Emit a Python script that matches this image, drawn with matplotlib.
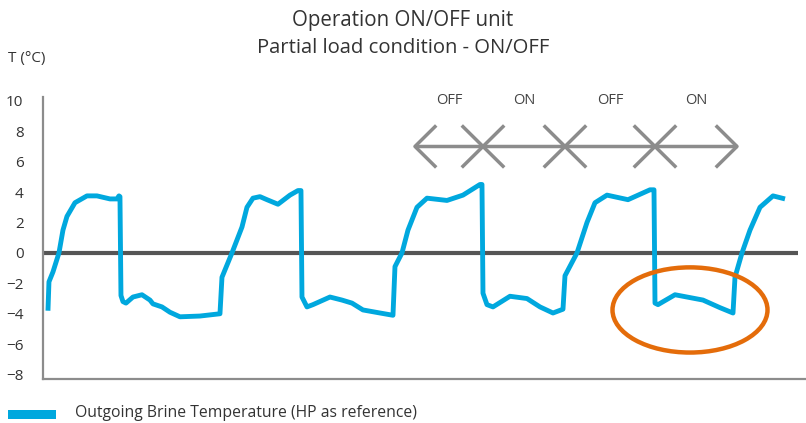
import matplotlib.pyplot as plt
from matplotlib.patches import Ellipse, Rectangle

plt.rcParams['font.family'] = ['Open Sans', 'DejaVu Sans']

# brine temperature trace (time in arbitrary units)
time = [0.5, 0.6, 1.0, 1.6, 2.0, 2.4, 3.2, 4.4, 5.4, 6.7, 7.4, 7.6, 7.7, 7.8, 8.0, 8.3, 9.0,
        9.9, 10.7, 11.0, 11.9, 12.7, 13.7, 15.7, 17.7, 17.9, 18.9, 19.9, 20.4, 21.0, 21.7,
        22.4, 23.5, 24.7, 25.5, 25.8, 25.9, 26.4, 27.0, 28.7, 29.9, 30.9, 32.0, 33.7, 35.0,
        35.2, 35.9, 36.5, 37.4, 38.4, 40.4, 42.0, 43.7, 43.9, 44.0, 44.4, 45.0, 46.7, 48.4,
        49.7, 51.0, 52.0, 52.2, 53.0, 53.4, 54.4, 55.2, 56.4, 58.5, 60.7, 61.1, 61.2, 61.5,
        63.2, 66.0, 67.7, 69.0, 69.2, 69.9, 70.7, 71.7, 73.0, 74.2]
temp = [-3.8, -1.9, -1.25, 0.0, 1.5, 2.4, 3.3, 3.75, 3.75, 3.55, 3.55, 3.75, 3.7, -2.8, -3.2,
        -3.3, -2.9, -2.75, -3.1, -3.35, -3.55, -3.9, -4.2, -4.15, -4.0, -1.6, 0.0, 1.7, 3.0,
        3.6, 3.7, 3.5, 3.2, 3.8, 4.1, 4.1, -2.9, -3.55, -3.4, -2.9, -3.1, -3.3, -3.75, -3.95,
        -4.1, -0.9, 0.0, 1.5, 3.0, 3.6, 3.45, 3.8, 4.5, 4.5, -2.65, -3.4, -3.55, -2.85, -3.0,
        -3.55, -3.95, -3.7, -1.5, -0.5, 0.0, 2.0, 3.3, 3.8, 3.5, 4.15, 4.15, -3.3, -3.4,
        -2.75, -3.1, -3.6, -3.95, -1.6, 0.0, 1.5, 3.0, 3.75, 3.55]

# operating phases shown by the arrows
phase_edges = [37.2, 44.0, 52.2, 61.2, 69.4]
phase_labels = ['OFF', 'ON', 'OFF', 'ON']
yticks = [10, 8, 6, 4, 2, 0, -2, -4, -6, -8]

blue = '#00a8de'
grey = '#8c8c8c'
txt = '#333333'

fig = plt.figure(figsize=(8.06, 4.23), dpi=100)
ax = fig.add_axes([0.0533, 0.104, 0.9467, 0.667])

ax.plot(time, temp, color=blue, lw=3.5, solid_joinstyle='round', solid_capstyle='butt', zorder=3)
ax.plot([0, 75.5], [0, 0], color='#555555', lw=3.0, solid_capstyle='butt', zorder=2)

# double arrows with open chevron heads
ya = 7.0
hl, hh = 2.0, 1.3
for i in range(len(phase_labels)):
    x0, x1 = phase_edges[i], phase_edges[i + 1]
    ax.plot([x0, x1], [ya, ya], color=grey, lw=2.5, solid_capstyle='butt')
    ax.plot([x0 + hl, x0, x0 + hl], [ya + hh, ya, ya - hh], color=grey, lw=2.5)
    ax.plot([x1 - hl, x1, x1 - hl], [ya + hh, ya, ya - hh], color=grey, lw=2.5)
    ax.text((x0 + x1) / 2, 10.0, phase_labels[i], ha='center', va='center',
            fontsize=10.5, color='#444444')

ax.add_patch(Ellipse((64.7, -3.75), 15.5, 5.6, fill=False, edgecolor='#e46c0a', lw=3.2, zorder=4))

ax.set_xlim(0, 76.3)
ax.set_ylim(-8.29, 10.26)
ax.set_yticks(yticks)
ax.set_xticks([])
ax.tick_params(axis='y', length=0, pad=14, labelsize=11, labelcolor=txt)
for s in ['top', 'right']:
    ax.spines[s].set_visible(False)
for s in ['left', 'bottom']:
    ax.spines[s].set_color(grey)
    ax.spines[s].set_linewidth(1.6)

fig.text(0.5, 0.951, 'Operation ON/OFF unit', ha='center', va='center', fontsize=14.8, color=txt)
fig.text(0.5, 0.887, 'Partial load condition - ON/OFF', ha='center', va='center', fontsize=14.6, color=txt)
fig.text(0.01, 0.862, 'T (°C)', ha='left', va='center', fontsize=11, color=txt)

# legend swatch
fig.patches.append(Rectangle((8 / 806, 1 - 419 / 423), 48 / 806, 9 / 423, transform=fig.transFigure,
                             facecolor=blue, edgecolor='none'))
fig.text(75 / 806, 1 - 413 / 423, 'Outgoing Brine Temperature (HP as reference)', ha='left', va='center',
         fontsize=11.3, color=txt)

fig.savefig('out.png', dpi=100)
